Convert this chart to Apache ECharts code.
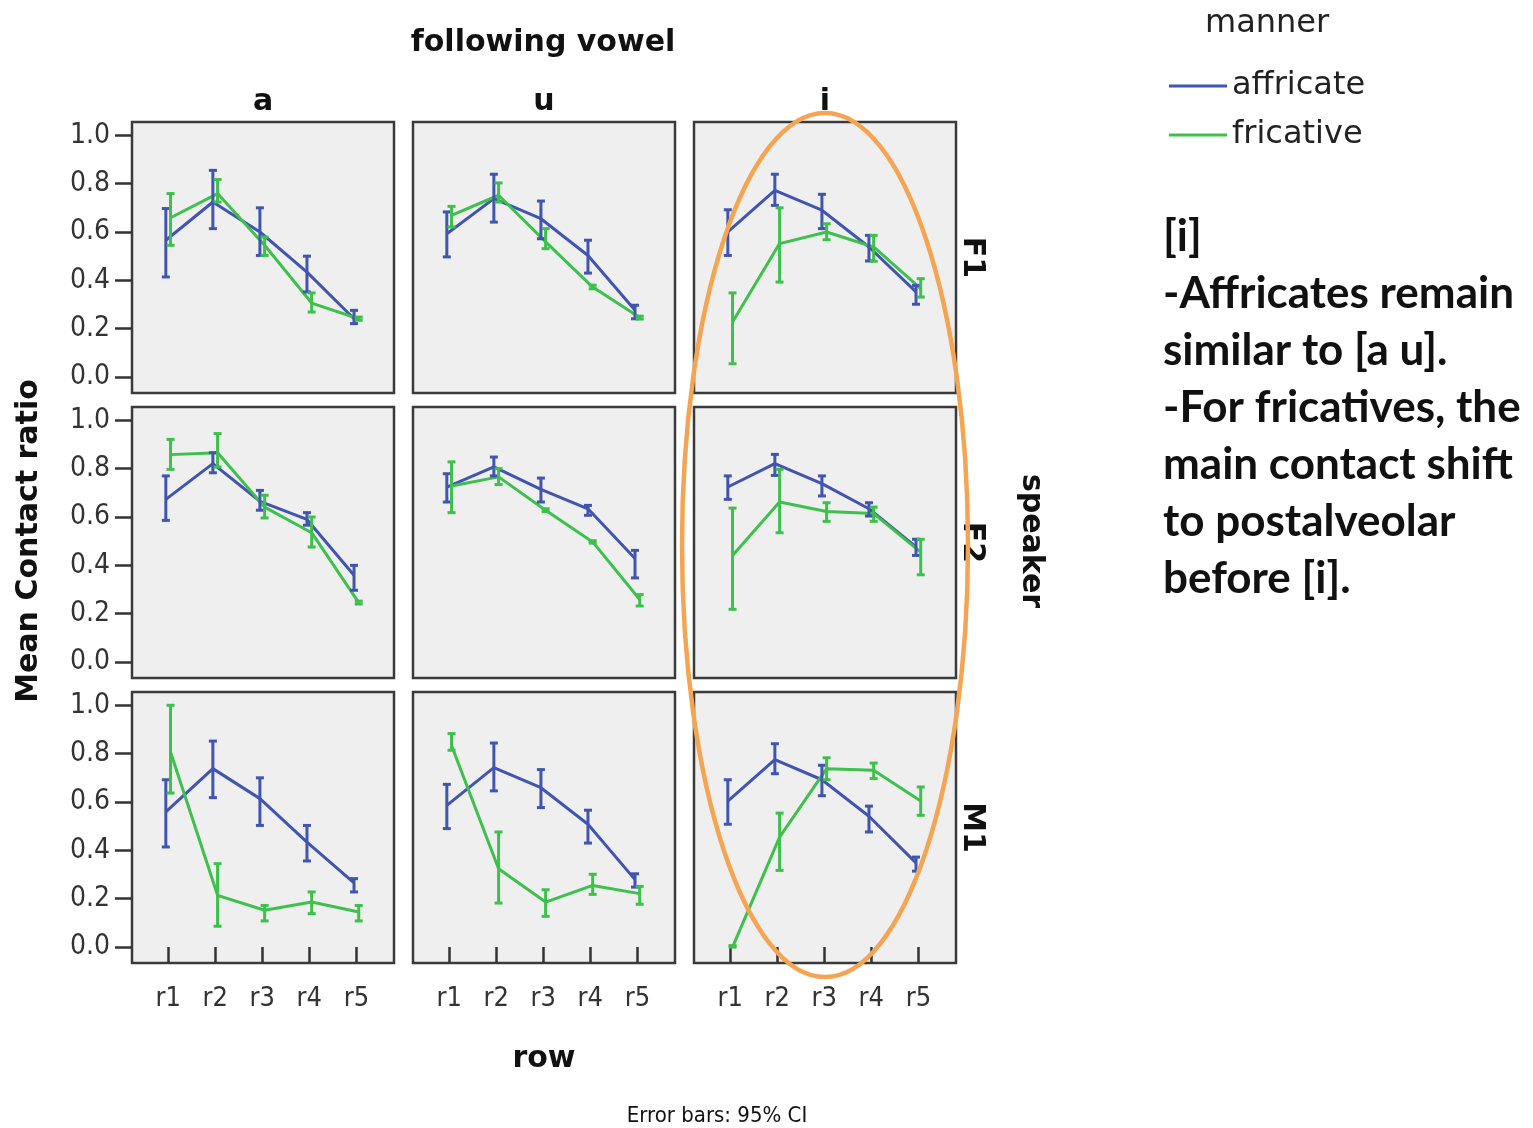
<!DOCTYPE html>
<html>
<head>
<meta charset="utf-8">
<script src="https://cdn.jsdelivr.net/npm/echarts@6/dist/echarts.min.js"></script>
<style>html,body{margin:0;padding:0;background:#fff}#chart{width:1533px;height:1128px}</style>
</head>
<body>
<div id="chart"></div>
<script>
const categories = ['r1', 'r2', 'r3', 'r4', 'r5'];
const vowels = ['a', 'u', 'i'];
const speakers = ['F1', 'F2', 'M1'];
const yTickValues = [0, 0.2, 0.4, 0.6, 0.8, 1.0];
const noteLines = ['[i]', '-Affricates remain', 'similar to [a u].', '-For fricatives, the', 'main contact shift', 'to postalveolar', 'before [i].'];

// each array: one row per vowel (a, u, i), five values per row (r1..r5)
const affF1Mean = [[0.566,0.724,0.600,0.434,0.241],[0.593,0.738,0.655,0.503,0.276],[0.600,0.772,0.690,0.538,0.352]];
const affF1Lo   = [[0.414,0.614,0.503,0.352,0.221],[0.497,0.641,0.572,0.430,0.241],[0.503,0.710,0.614,0.480,0.301]];
const affF1Hi   = [[0.697,0.855,0.700,0.500,0.276],[0.683,0.839,0.728,0.566,0.297],[0.692,0.839,0.756,0.586,0.379]];
const friF1Mean = [[0.659,0.759,0.545,0.306,0.241],[0.669,0.752,0.559,0.372,0.246],[0.228,0.552,0.600,0.538,0.366]];
const friF1Lo   = [[0.545,0.724,0.503,0.269,0.235],[0.621,0.724,0.531,0.365,0.240],[0.055,0.393,0.568,0.479,0.331]];
const friF1Hi   = [[0.759,0.817,0.579,0.348,0.248],[0.706,0.803,0.614,0.380,0.252],[0.348,0.700,0.634,0.586,0.407]];

const affF2Mean = [[0.673,0.821,0.665,0.590,0.359],[0.724,0.807,0.714,0.634,0.428],[0.724,0.821,0.738,0.634,0.476]];
const affF2Lo   = [[0.586,0.783,0.628,0.566,0.297],[0.662,0.770,0.662,0.607,0.348],[0.673,0.772,0.687,0.604,0.441]];
const affF2Hi   = [[0.770,0.866,0.710,0.618,0.400],[0.779,0.848,0.761,0.648,0.462],[0.770,0.859,0.770,0.659,0.508]];
const friF2Mean = [[0.858,0.866,0.641,0.535,0.246],[0.728,0.766,0.628,0.497,0.259],[0.441,0.662,0.623,0.614,0.455]];
const friF2Lo   = [[0.797,0.807,0.596,0.476,0.240],[0.618,0.734,0.622,0.492,0.232],[0.218,0.535,0.582,0.582,0.361]];
const friF2Hi   = [[0.921,0.945,0.690,0.600,0.252],[0.828,0.800,0.634,0.502,0.279],[0.637,0.797,0.659,0.641,0.508]];

const affM1Mean = [[0.559,0.738,0.614,0.434,0.265],[0.586,0.742,0.659,0.508,0.279],[0.604,0.775,0.692,0.541,0.348]];
const affM1Lo   = [[0.414,0.618,0.503,0.356,0.228],[0.490,0.646,0.577,0.430,0.248],[0.508,0.717,0.626,0.476,0.314]];
const affM1Hi   = [[0.692,0.852,0.700,0.503,0.283],[0.673,0.844,0.734,0.566,0.303],[0.692,0.841,0.752,0.583,0.372]];
const friM1Mean = [[0.807,0.214,0.152,0.186,0.145],[0.834,0.324,0.186,0.255,0.221],[0.000,0.455,0.738,0.731,0.604]];
const friM1Lo   = [[0.637,0.086,0.108,0.138,0.108],[0.814,0.182,0.127,0.218,0.177],[0.000,0.317,0.692,0.697,0.545]];
const friM1Hi   = [[1.000,0.345,0.172,0.228,0.172],[0.883,0.476,0.237,0.301,0.251],[0.006,0.554,0.783,0.761,0.662]];

const manners = [
  { name: 'affricate', color: '#4054b2', offset: -0.05,
    mean: [affF1Mean, affF2Mean, affM1Mean], lo: [affF1Lo, affF2Lo, affM1Lo], hi: [affF1Hi, affF2Hi, affM1Hi] },
  { name: 'fricative', color: '#3ec04c', offset: 0.05,
    mean: [friF1Mean, friF2Mean, friM1Mean], lo: [friF1Lo, friF2Lo, friM1Lo], hi: [friF1Hi, friF2Hi, friM1Hi] }
];

const colLeft = [132, 413, 694];
const rowTop = [122, 407, 692];
const PW = 262, PH = 271;
const axisFont = '"DejaVu Sans Condensed", "DejaVu Sans", sans-serif';
const boldFont = '"DejaVu Sans", sans-serif';

const grids = [], xAxes = [], yAxes = [], series = [];
for (let r = 0; r < 3; r++) {
  for (let c = 0; c < 3; c++) {
    const g = r * 3 + c;
    grids.push({ left: colLeft[c], top: rowTop[r], width: PW, height: PH, show: true,
      backgroundColor: '#efefef', borderColor: '#3a3a3a', borderWidth: 2.5 });
    xAxes.push({ type: 'value', gridIndex: g, min: 0.231, max: 5.80,
      splitLine: { show: false }, axisLine: { show: false },
      axisTick: { show: r === 2, customValues: [1, 2, 3, 4, 5], length: 16, lineStyle: { color: '#333', width: 2.5 } },
      axisLabel: { show: r === 2, customValues: [1, 2, 3, 4, 5], margin: 22, fontSize: 27, color: '#333', fontFamily: axisFont,
        formatter: v => categories[Math.round(v) - 1] } });
    yAxes.push({ type: 'value', gridIndex: g, min: -0.066, max: 1.055,
      splitLine: { show: false }, axisLine: { show: false },
      axisTick: { show: c === 0, customValues: yTickValues, length: 17, lineStyle: { color: '#333', width: 2.5 } },
      axisLabel: { show: c === 0, customValues: yTickValues, margin: 22, fontSize: 28, color: '#333', fontFamily: axisFont,
        formatter: v => v.toFixed(1) } });
    manners.forEach(m => {
      const mean = m.mean[r][c], lo = m.lo[r][c], hi = m.hi[r][c];
      series.push({ type: 'line', name: m.name, xAxisIndex: g, yAxisIndex: g,
        data: mean.map((v, k) => [k + 1 + m.offset, v]), showSymbol: false, symbol: 'none',
        lineStyle: { color: m.color, width: 3 }, itemStyle: { color: m.color }, z: 3 });
      series.push({ type: 'custom', name: m.name + ' CI', xAxisIndex: g, yAxisIndex: g,
        data: lo.map((l, k) => [k + 1 + m.offset, l, hi[k]]),
        encode: { x: 0, y: [1, 2] }, z: 4,
        renderItem: (params, api) => {
          const x = api.value(0);
          const p1 = api.coord([x, api.value(1)]);
          const p2 = api.coord([x, api.value(2)]);
          const w = 4, st = { stroke: m.color, lineWidth: 3 };
          return { type: 'group', children: [
            { type: 'line', shape: { x1: p1[0], y1: p1[1], x2: p2[0], y2: p2[1] }, style: st },
            { type: 'line', shape: { x1: p1[0] - w, y1: p1[1], x2: p1[0] + w, y2: p1[1] }, style: st },
            { type: 'line', shape: { x1: p2[0] - w, y1: p2[1], x2: p2[0] + w, y2: p2[1] }, style: st }
          ] };
        } });
    });
  }
}

const graphics = [];
const T = (text, x, y, font, rot) => graphics.push({ type: 'text', x: x, y: y, rotation: rot || 0, z: 10,
  style: { text: text, font: font, fill: '#111', align: 'center', verticalAlign: 'middle' } });
const B = 'bold 30px ' + boldFont;
T('following vowel', 543, 43, B);
vowels.forEach((v, c) => T(v, colLeft[c] + PW / 2, 102, B));
speakers.forEach((s, r) => T(s, 972, rowTop[r] + PH / 2, B, -Math.PI / 2));
T('speaker', 1031, 541, B, -Math.PI / 2);
T('Mean Contact ratio', 29, 541, B, Math.PI / 2);
T('row', 544, 1059, B);
T('Error bars: 95% CI', 717, 1116, '22px ' + axisFont);
graphics.push({ type: 'text', left: 1205, top: 8, z: 10,
  style: { text: 'manner', font: '32px "DejaVu Sans", sans-serif', fill: '#222' } });
graphics.push({ type: 'text', x: 1163, y: 208, z: 10,
  style: { text: noteLines.join('\n'), font: 'bold 44px Lato, sans-serif', lineHeight: 57, fill: '#111' } });
graphics.push({ type: 'ellipse', z: 20, shape: { cx: 825, cy: 545, rx: 143, ry: 432 },
  style: { fill: null, stroke: '#f5a552', lineWidth: 4.5 } });

const chart = echarts.init(document.getElementById('chart'));
chart.setOption({
  animation: false,
  grid: grids, xAxis: xAxes, yAxis: yAxes, series: series,
  legend: { data: ['affricate', 'fricative'], orient: 'vertical', left: 1164, top: 64,
    icon: 'rect', itemWidth: 58, itemHeight: 3, itemGap: 15, selectedMode: false,
    textStyle: { fontSize: 32, lineHeight: 34, fontFamily: '"DejaVu Sans", sans-serif', color: '#222' } },
  graphic: graphics
});
</script>
</body>
</html>
